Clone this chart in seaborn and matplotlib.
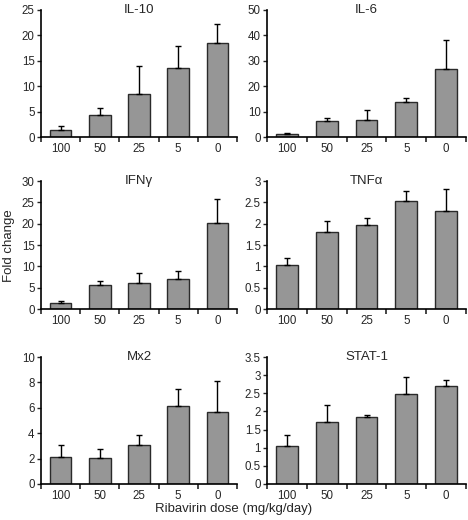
import matplotlib
matplotlib.use("Agg")
import matplotlib.pyplot as plt
import matplotlib.ticker as mticker
import seaborn as sns
import numpy as np
import pandas as pd

doses = ["100", "50", "25", "5", "0"]

il10_mean = [1.45, 4.25, 8.4, 13.5, 18.5]
il10_err = [0.65, 1.5, 5.6, 4.4, 3.8]

il6_mean = [1.3, 6.4, 6.8, 13.9, 26.8]
il6_err = [0.4, 1.2, 3.9, 1.5, 11.4]

ifng_mean = [1.33, 5.55, 6.17, 6.95, 20.1]
ifng_err = [0.62, 1.0, 2.33, 1.88, 5.7]

tnfa_mean = [1.03, 1.80, 1.97, 2.54, 2.29]
tnfa_err = [0.17, 0.26, 0.17, 0.22, 0.53]

mx2_mean = [2.1, 2.01, 3.08, 6.14, 5.69]
mx2_err = [0.97, 0.71, 0.78, 1.33, 2.4]

stat1_mean = [1.05, 1.70, 1.85, 2.48, 2.71]
stat1_err = [0.30, 0.47, 0.06, 0.48, 0.16]

titles = ["IL-10", "IL-6", "IFN\u03b3", "TNF\u03b1", "Mx2", "STAT-1"]
means = [il10_mean, il6_mean, ifng_mean, tnfa_mean, mx2_mean, stat1_mean]
errs = [il10_err, il6_err, ifng_err, tnfa_err, mx2_err, stat1_err]
ymaxes = [25, 50, 30, 3, 10, 3.5]
ysteps = [5, 10, 5, 0.5, 2, 0.5]

sns.set_style("ticks")
plt.rcParams["font.family"] = ["Liberation Sans", "DejaVu Sans"]

W, H = 468, 520
fig = plt.figure(figsize=(W / 100, H / 100), dpi=100)

cols = [(41, 237), (267, 466)]
rows = [(10, 137), (181, 309), (357, 484)]

for i in range(6):
    r, c = divmod(i, 2)
    x0, x1 = cols[c]
    t, b = rows[r]
    ax = fig.add_axes([x0 / W, 1 - b / H, (x1 - x0) / W, (b - t) / H])
    df = pd.DataFrame({"dose": doses, "val": means[i]})
    sns.barplot(data=df, x="dose", y="val", order=doses, color="#969696",
                saturation=1, edgecolor="#2a2a2a", linewidth=1.0, width=0.55,
                errorbar=None, ax=ax)
    n = len(doses)
    ax.errorbar(np.arange(n), means[i], yerr=[np.zeros(n), errs[i]], fmt="none",
                ecolor="black", elinewidth=1.0, capsize=2.2, capthick=1.0, zorder=1)
    ax.set_xlim(-0.5, n - 0.5)
    ax.set_ylim(0, ymaxes[i])
    ax.set_yticks(np.arange(0, ymaxes[i] + ysteps[i] / 2, ysteps[i]))
    ax.yaxis.set_major_formatter(mticker.FuncFormatter(lambda v, p: f"{v:g}"))
    ax.set_xticks(np.arange(n))
    ax.set_xticks(np.arange(-0.5, n, 1.0), minor=True)
    ax.tick_params(axis="x", which="major", length=0, pad=4.5, labelsize=8.3)
    ax.tick_params(axis="x", which="minor", length=3.5, width=1.2, direction="out")
    ax.tick_params(axis="y", length=3, width=1.0, direction="out", pad=1.5, labelsize=8.3)
    ax.set_xlabel("")
    ax.set_ylabel("")
    for s in ["top", "right"]:
        ax.spines[s].set_visible(False)
    for s in ["left", "bottom"]:
        ax.spines[s].set_linewidth(1.2)
        ax.spines[s].set_color("black")
    ax.text(0.5, 1.0, titles[i], transform=ax.transAxes, ha="center", va="center",
            fontsize=9.5)

fig.text(9 / W, 1 - 246 / H, "Fold change", rotation=90, ha="center", va="center", fontsize=9.5)
fig.text(234 / W, 1 - 509 / H, "Ribavirin dose (mg/kg/day)", ha="center", va="center", fontsize=9.5)

fig.savefig("out.png", dpi=100)
